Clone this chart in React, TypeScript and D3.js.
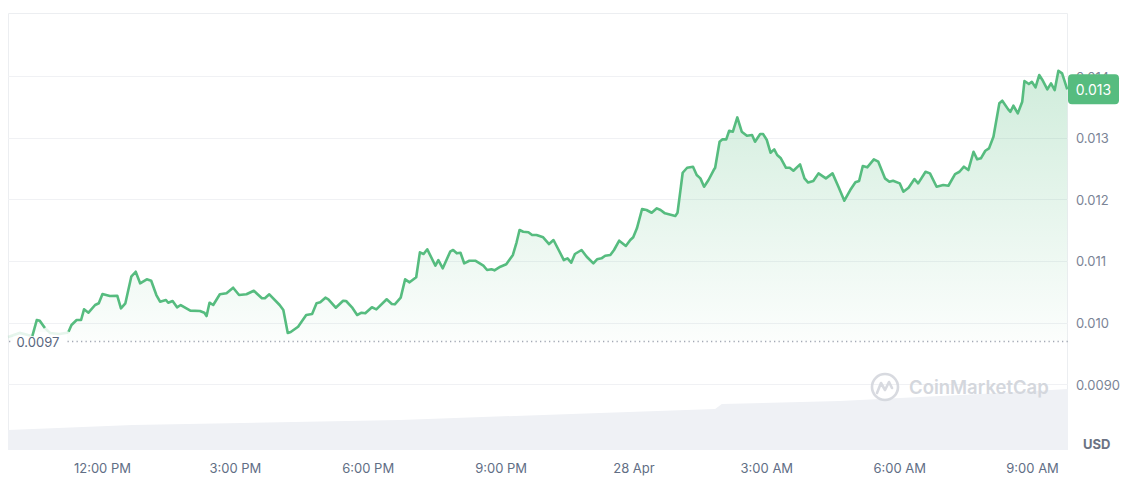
import React, { useEffect, useRef } from "react";
import * as d3 from "d3";

// chart window: 27 Apr 09:52 -> 28 Apr 09:48
const startTime = new Date(2024, 3, 27, 9, 52);
const windowMinutes = 1436;

// price series (minutes since start, USD)
const priceMinutes = [
  0, 16, 27, 33, 39, 43, 50, 57, 70, 80, 82, 86, 93, 99, 103, 109, 118, 123, 128, 138,
  148, 153, 159, 167, 173, 179, 188, 194, 201, 206, 214, 217, 223, 229, 234, 247, 260, 266, 269, 273,
  278, 287, 296, 305, 313, 323, 333, 344, 348, 354, 368, 373, 379, 383, 393, 404, 412, 418, 423, 430,
  434, 444, 454, 458, 466, 473, 479, 484, 493, 499, 513, 520, 524, 532, 538, 544, 553, 558, 563, 568,
  579, 583, 589, 599, 603, 608, 613, 618, 625, 633, 644, 649, 655, 659, 667, 675, 684, 689, 693, 698,
  705, 710, 716, 725, 733, 739, 746, 753, 758, 763, 768, 777, 784, 793, 798, 804, 809, 816, 821, 828,
  837, 843, 847, 852, 859, 865, 872, 879, 884, 890, 899, 904, 907, 911, 914, 920, 928, 933, 938, 943,
  949, 956, 958, 964, 968, 973, 977, 982, 988, 994, 1001, 1008, 1012, 1019, 1023, 1028, 1033, 1038, 1042, 1047,
  1054, 1059, 1064, 1073, 1079, 1084, 1091, 1098, 1108, 1117, 1125, 1133, 1141, 1148, 1153, 1158, 1164, 1173, 1179, 1188,
  1194, 1199, 1208, 1213, 1220, 1228, 1233, 1243, 1249, 1258, 1267, 1274, 1283, 1289, 1295, 1301, 1308, 1313, 1318, 1324,
  1329, 1335, 1343, 1347, 1355, 1358, 1362, 1368, 1374, 1377, 1383, 1387, 1392, 1397, 1402, 1408, 1413, 1418, 1423, 1428,
  1435,
];
const prices = [
  0.009765, 0.00983, 0.009797, 0.009781, 0.010041, 0.010029, 0.009911, 0.00983, 0.009813, 0.009834,
  0.009851, 0.009959, 0.010041, 0.010041, 0.010214, 0.010159, 0.010284, 0.010312, 0.010463, 0.01043,
  0.010435, 0.01023, 0.010312, 0.010743, 0.010824, 0.010636, 0.010701, 0.010678, 0.010446, 0.010338,
  0.010365, 0.010321, 0.010349, 0.010247, 0.010284, 0.010192, 0.010187, 0.010159, 0.010105, 0.010321,
  0.010284, 0.010458, 0.010474, 0.010565, 0.010446, 0.010458, 0.010516, 0.010393, 0.010393, 0.010458,
  0.010284, 0.010203, 0.00983, 0.009846, 0.009932, 0.010122, 0.010138, 0.010312, 0.010328, 0.010403,
  0.010377, 0.01024, 0.010354, 0.010349, 0.010247, 0.010122, 0.010159, 0.010149, 0.010247, 0.010214,
  0.010377, 0.0103, 0.010295, 0.010403, 0.010701, 0.010652, 0.010734, 0.011139, 0.011112, 0.011188,
  0.010922, 0.011014, 0.01088, 0.011149, 0.011177, 0.011123, 0.011133, 0.010961, 0.011003, 0.011003,
  0.010922, 0.010852, 0.010863, 0.010847, 0.010906, 0.010945, 0.011096, 0.011302, 0.011501, 0.011474,
  0.011464, 0.01142, 0.01142, 0.011383, 0.011274, 0.011339, 0.011177, 0.011014, 0.011042, 0.010971,
  0.011112, 0.011177, 0.011068, 0.010961, 0.011026, 0.011042, 0.011084, 0.011096, 0.011177, 0.011328,
  0.011242, 0.011339, 0.011383, 0.011529, 0.011842, 0.011826, 0.011782, 0.011853, 0.011826, 0.011772,
  0.011745, 0.011728, 0.011782, 0.01215, 0.012431, 0.012512, 0.012529, 0.012394, 0.01234, 0.012204,
  0.012313, 0.012475, 0.012512, 0.012934, 0.012973, 0.012973, 0.013113, 0.013097, 0.01333, 0.013097,
  0.013032, 0.013043, 0.012934, 0.013059, 0.013059, 0.012962, 0.012756, 0.012811, 0.012719, 0.012665,
  0.012512, 0.012512, 0.012464, 0.012568, 0.01234, 0.012272, 0.012297, 0.012421, 0.01234, 0.012421,
  0.012204, 0.011977, 0.01215, 0.012276, 0.012297, 0.01254, 0.012519, 0.012649, 0.01261, 0.01234,
  0.012285, 0.012301, 0.012259, 0.012123, 0.012188, 0.012329, 0.012259, 0.012447, 0.012421, 0.012204,
  0.012232, 0.01222, 0.01241, 0.012447, 0.012529, 0.012475, 0.012772, 0.012649, 0.012665, 0.012788,
  0.012827, 0.013016, 0.013558, 0.0136, 0.01346, 0.013421, 0.013519, 0.013395, 0.013584, 0.01392,
  0.013871, 0.013908, 0.013817, 0.014017, 0.013924, 0.013785, 0.013882, 0.013773, 0.014087, 0.014045,
  0.013785,
];

// 24h volume (USD millions)
const volumeMinutes = [0, 169, 531, 802, 958, 967, 1127, 1344, 1436];
const volumes = [1.33, 1.67, 2.0, 2.47, 2.73, 3.07, 3.27, 3.8, 4.07];

const priceTicks = [0.009, 0.01, 0.011, 0.012, 0.013, 0.014];
const priceTickLabels = ["0.0090", "0.010", "0.011", "0.012", "0.013", "0.014"];
const openPrice = 0.0097;
const openPriceLabel = "0.0097";
const lastPriceLabel = "0.013";

const GREEN = "#56bc7f";
const FONT = "Inter, 'Noto Sans', sans-serif";

const PriceChart = () => {
  const ref = useRef(null);

  useEffect(() => {
    const width = 1140;
    const height = 479;
    const left = 8;
    const right = 1068;
    const top = 13.5;
    const bottom = 450;

    d3.select(ref.current).selectAll("*").remove();

    const svg = d3
      .select(ref.current)
      .append("svg")
      .attr("width", width)
      .attr("height", height)
      .style("position", "absolute")
      .style("left", 0)
      .style("top", 0)
      .style("font-family", FONT);

    const toTime = (m) => new Date(startTime.getTime() + m * 60000);

    const x = d3
      .scaleTime()
      .domain([startTime, toTime(windowMinutes)])
      .range([left, right]);
    const y = d3.scaleLinear().domain([0.009, 0.014]).range([384.1, 76.1]);
    const yVol = d3.scaleLinear().domain([0, 5]).range([bottom, bottom - 75]);

    const data = priceMinutes.map((m, i) => ({ m, t: toTime(m), p: prices[i] }));
    const volData = volumeMinutes.map((m, i) => ({ t: toTime(m), v: volumes[i] }));

    const defs = svg.append("defs");
    const grad = defs
      .append("linearGradient")
      .attr("id", "areaGrad")
      .attr("gradientUnits", "userSpaceOnUse")
      .attr("x1", 0)
      .attr("x2", 0)
      .attr("y1", 70)
      .attr("y2", y(openPrice));
    grad.append("stop").attr("offset", 0).attr("stop-color", GREEN).attr("stop-opacity", 0.28);
    grad.append("stop").attr("offset", 1).attr("stop-color", GREEN).attr("stop-opacity", 0.02);

    // frame
    svg
      .append("path")
      .attr("d", `M${left + 0.5},${bottom} V${top} H${right - 0.5} V${bottom}`)
      .attr("fill", "none")
      .attr("stroke", "#eceef1")
      .attr("stroke-width", 1);

    // grid
    svg
      .selectAll(".grid")
      .data(priceTicks)
      .enter()
      .append("line")
      .attr("x1", left)
      .attr("x2", right)
      .attr("y1", (d) => Math.round(y(d)) + 0.5)
      .attr("y2", (d) => Math.round(y(d)) + 0.5)
      .attr("stroke", "#f0f1f4");

    // volume
    const volArea = d3
      .area()
      .x((d) => x(d.t))
      .y0(bottom)
      .y1((d) => yVol(d.v));
    svg.append("path").datum(volData).attr("d", volArea).attr("fill", "#eff1f5");

    // watermark
    const wm = svg.append("g").attr("transform", "translate(885,387)").attr("opacity", 0.9);
    wm.append("circle").attr("r", 13).attr("fill", "none").attr("stroke", "#d4d7dd").attr("stroke-width", 2.6);
    wm.append("path")
      .attr("d", "M-8,6 L-4,-4 L0,3 L4,-5 L7,1")
      .attr("fill", "none")
      .attr("stroke", "#d4d7dd")
      .attr("stroke-width", 2.6)
      .attr("stroke-linejoin", "round")
      .attr("stroke-linecap", "round");
    svg
      .append("text")
      .attr("x", 909)
      .attr("y", 387)
      .attr("dominant-baseline", "central")
      .attr("font-size", 18.5)
      .attr("font-weight", 600)
      .attr("fill", "#d4d7dd")
      .text("CoinMarketCap");

    // area under price
    const area = d3
      .area()
      .x((d) => x(d.t))
      .y0(y(openPrice))
      .y1((d) => y(d.p));
    svg.append("path").datum(data).attr("d", area).attr("fill", "url(#areaGrad)");

    // open price dotted line
    svg
      .append("line")
      .attr("x1", 9)
      .attr("x2", right)
      .attr("y1", Math.round(y(openPrice)) + 0.5)
      .attr("y2", Math.round(y(openPrice)) + 0.5)
      .attr("stroke", "#a3a9b5")
      .attr("stroke-width", 1.3)
      .attr("stroke-dasharray", "1.3 3.2");
    svg
      .append("rect")
      .attr("x", 13)
      .attr("y", y(openPrice) - 9)
      .attr("width", 54)
      .attr("height", 18)
      .attr("fill", "#fff");
    svg
      .append("text")
      .attr("x", 16.5)
      .attr("y", y(openPrice) + 1.5)
      .attr("dominant-baseline", "central")
      .attr("font-size", 13)
      .attr("fill", "#58667e")
      .text(openPriceLabel);

    // price line: faded start, green elsewhere
    const lineAll = d3
      .line()
      .x((d) => x(d.t))
      .y((d) => y(d.p));
    svg
      .append("path")
      .datum(data.filter((d) => d.m <= 82))
      .attr("d", lineAll)
      .attr("fill", "none")
      .attr("stroke", GREEN)
      .attr("stroke-opacity", 0.15)
      .attr("stroke-width", 2.6);
    const lineGreen = d3
      .line()
      .defined((d) => d.m >= 82 || (d.m >= 33 && d.m <= 50))
      .x((d) => x(d.t))
      .y((d) => y(d.p));
    svg
      .append("path")
      .datum(data)
      .attr("d", lineGreen)
      .attr("fill", "none")
      .attr("stroke", GREEN)
      .attr("stroke-width", 2.6)
      .attr("stroke-linejoin", "round");

    // y axis labels
    svg
      .selectAll(".ylab")
      .data(priceTicks)
      .enter()
      .append("text")
      .attr("x", 1076)
      .attr("y", (d) => y(d) + 0.5)
      .attr("dominant-baseline", "central")
      .attr("font-size", 13)
      .attr("fill", "#7b8496")
      .text((d, i) => priceTickLabels[i]);

    // last price badge
    const last = data[data.length - 1];
    const by = y(last.p);
    svg
      .append("rect")
      .attr("x", 1068)
      .attr("y", by - 15)
      .attr("width", 51)
      .attr("height", 30)
      .attr("rx", 4)
      .attr("fill", GREEN);
    svg
      .append("text")
      .attr("x", 1093.5)
      .attr("y", by)
      .attr("text-anchor", "middle")
      .attr("dominant-baseline", "central")
      .attr("font-size", 14)
      .attr("fill", "#fff")
      .text(lastPriceLabel);

    svg
      .append("text")
      .attr("x", 1083)
      .attr("y", 444)
      .attr("dominant-baseline", "central")
      .attr("font-size", 13)
      .attr("font-weight", 700)
      .attr("fill", "#6b7384")
      .text("USD");

    // x axis labels
    const fmtDay = d3.timeFormat("%-d %b");
    const fmtHour = d3.timeFormat("%-I:%M %p");
    const ticks = x.ticks(d3.timeHour.every(3));
    svg
      .selectAll(".xlab")
      .data(ticks)
      .enter()
      .append("text")
      .attr("x", (d) => x(d))
      .attr("y", 468)
      .attr("text-anchor", "middle")
      .attr("dominant-baseline", "central")
      .attr("font-size", 13)
      .attr("fill", "#616e85")
      .text((d) => (d.getHours() === 0 ? fmtDay(d) : fmtHour(d)));
  }, []);

  return <div ref={ref}></div>;
};

export default function App() {
  return <PriceChart />;
}
